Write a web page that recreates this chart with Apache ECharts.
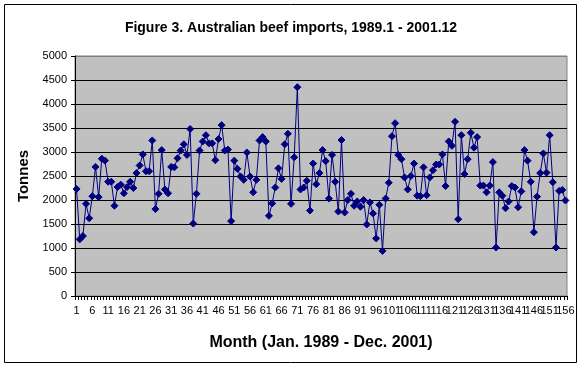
<!DOCTYPE html>
<html>
<head>
<meta charset="utf-8">
<script src="https://cdn.jsdelivr.net/npm/echarts@6/dist/echarts.min.js"></script>
<style>
html,body{margin:0;padding:0;background:#fff;}
#chart{width:582px;height:368px;}
</style>
</head>
<body>
<div id="chart"></div>
<script>
// Monthly Australian beef imports (tonnes), 1989.1 - 2001.12
const y1989 = [2230, 1180, 1250, 1920, 1620, 2080, 2690, 2060, 2860, 2820, 2380, 2380];
const y1990 = [1880, 2270, 2320, 2140, 2270, 2380, 2250, 2560, 2720, 2950, 2600, 2600];
const y1991 = [3240, 1810, 2130, 3040, 2220, 2140, 2690, 2680, 2870, 3030, 3160, 2940];
const y1992 = [3480, 1510, 2130, 3030, 3220, 3350, 3180, 3180, 2830, 3270, 3560, 3030];
const y1993 = [3050, 1560, 2820, 2650, 2490, 2420, 2990, 2490, 2160, 2420, 3240, 3310];
const y1994 = [3220, 1670, 1930, 2260, 2660, 2440, 3160, 3380, 1920, 2890, 4350, 2220];
const y1995 = [2260, 2400, 1780, 2760, 2330, 2560, 3040, 2810, 2030, 2940, 2380, 1760];
const y1996 = [3250, 1740, 2000, 2130, 1880, 1970, 1860, 2000, 1490, 1950, 1720, 1200];
const y1997 = [1900, 940, 2030, 2360, 3330, 3600, 2940, 2850, 2470, 2220, 2500, 2760];
const y1998 = [2090, 2080, 2680, 2100, 2470, 2620, 2740, 2740, 2950, 2290, 3220, 3130];
const y1999 = [3630, 1600, 3350, 2540, 2850, 3400, 3090, 3310, 2300, 2300, 2160, 2300];
const y2000 = [2790, 1010, 2160, 2090, 1830, 1970, 2290, 2260, 1850, 2180, 3040, 2820];
const y2001 = [2380, 1330, 2070, 2560, 2970, 2570, 3350, 2370, 1010, 2190, 2210, 1990];

const values = [].concat(y1989, y1990, y1991, y1992, y1993, y1994, y1995,
                         y1996, y1997, y1998, y1999, y2000, y2001);
const months = values.map((v, i) => String(i + 1));
const yTicks = [0, 500, 1000, 1500, 2000, 2500, 3000, 3500, 4000, 4500, 5000];

const titleText = 'Figure 3. Australian beef imports, 1989.1 - 2001.12';
const xTitle = 'Month (Jan. 1989 - Dec. 2001)';
const yTitle = 'Tonnes';

const chart = echarts.init(document.getElementById('chart'), null, {renderer: 'canvas'});
const font = 'Liberation Sans, Arial, sans-serif';
const splitColors = yTicks.map((t, i) => i === yTicks.length - 1 ? '#808080' : '#000000');
const labelStyle = {margin: 9, fontFamily: font, fontSize: 11, color: '#000', hideOverlap: false};

chart.setOption({
  animation: false,
  backgroundColor: '#ffffff',
  title: {
    text: titleText,
    left: 'center',
    top: 16,
    textStyle: {fontFamily: font, fontSize: 14, fontWeight: 'bold', color: '#000'}
  },
  graphic: [{
    type: 'rect',
    shape: {x: 4.5, y: 4.5, width: 572, height: 358},
    style: {fill: null, stroke: '#000', lineWidth: 1},
    silent: true,
    z: 100
  }],
  grid: {
    left: 75, top: 56, width: 492, height: 240,
    show: true, backgroundColor: '#C0C0C0', borderColor: '#808080', borderWidth: 1
  },
  xAxis: [{
    type: 'category',
    data: months,
    boundaryGap: true,
    position: 'bottom',
    name: xTitle,
    nameLocation: 'middle',
    nameGap: 39,
    nameTextStyle: {fontFamily: font, fontSize: 16, fontWeight: 'bold', color: '#000'},
    axisLine: {lineStyle: {color: '#000', width: 1}},
    axisTick: {show: true, interval: 0, length: 4, lineStyle: {color: '#000'}},
    axisLabel: Object.assign({interval: (i) => i % 10 === 0}, labelStyle),
    splitLine: {show: false}
  }, {
    type: 'category',
    data: months,
    boundaryGap: true,
    position: 'bottom',
    offset: 0,
    axisLine: {show: false},
    axisTick: {show: false},
    axisLabel: Object.assign({interval: (i) => i % 10 === 5}, labelStyle),
    splitLine: {show: false}
  }],
  yAxis: {
    type: 'value',
    min: 0, max: 5000, interval: 500,
    name: yTitle,
    nameLocation: 'middle',
    nameGap: 42,
    nameRotate: 90,
    nameTextStyle: {fontFamily: font, fontSize: 15, fontWeight: 'bold', color: '#000'},
    axisLine: {show: true, lineStyle: {color: '#000', width: 1}},
    axisTick: {show: true, length: 4, lineStyle: {color: '#000'}},
    axisLabel: {margin: 8, fontFamily: font, fontSize: 11, color: '#000',
                formatter: v => String(v)},
    splitLine: {show: true, lineStyle: {color: splitColors, width: 1}}
  },
  series: [{
    type: 'line',
    xAxisIndex: 0,
    data: values,
    symbol: 'diamond',
    symbolSize: 7,
    showAllSymbol: true,
    lineStyle: {color: '#000080', width: 1},
    itemStyle: {color: '#000080', borderColor: '#000080'},
    emphasis: {disabled: true}
  }]
});
</script>
</body>
</html>
